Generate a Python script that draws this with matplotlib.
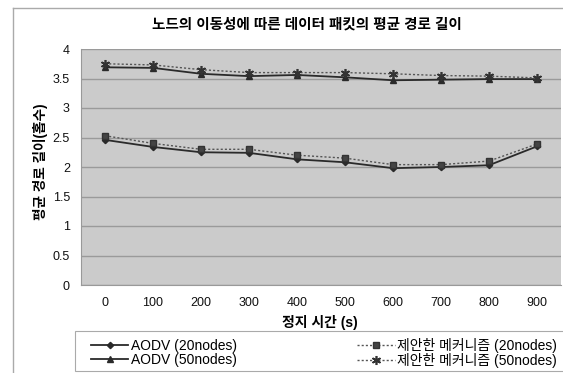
import matplotlib
matplotlib.use("Agg")
import matplotlib.pyplot as plt
from matplotlib.lines import Line2D
from matplotlib.patches import Rectangle

plt.rcParams['font.family'] = ['Liberation Sans', 'Noto Sans CJK KR', 'DejaVu Sans']

categories = ['0', '100', '200', '300', '400', '500', '600', '700', '800', '900']
aodv_20 = [2.46, 2.34, 2.25, 2.24, 2.13, 2.08, 1.98, 2.00, 2.03, 2.35]
prop_20 = [2.53, 2.40, 2.30, 2.30, 2.20, 2.15, 2.04, 2.04, 2.10, 2.39]
aodv_50 = [3.69, 3.68, 3.58, 3.54, 3.56, 3.52, 3.47, 3.48, 3.49, 3.49]
prop_50 = [3.75, 3.73, 3.65, 3.60, 3.60, 3.60, 3.58, 3.55, 3.54, 3.51]
yticks = [0, 0.5, 1, 1.5, 2, 2.5, 3, 3.5, 4]
ytick_labels = ['0', '0.5', '1', '1.5', '2', '2.5', '3', '3.5', '4']

title = '노드의 이동성에 따른 데이터 패킷의 평균 경로 길이'
xlabel = '정지 시간 (s)'
ylabel = '평균 경로 길이(홉수)'
labels = ['AODV (20nodes)', 'AODV (50nodes)', '제안한 메커니즘 (20nodes)', '제안한 메커니즘 (50nodes)']

W, H = 563, 373
fig = plt.figure(figsize=(W / 100, H / 100), dpi=100)
fig.patch.set_facecolor('white')

ax = fig.add_axes([81 / W, 1 - 285 / H, (561 - 81) / W, (285 - 49) / H])
ax.set_facecolor('#cbcbcb')

x = list(range(len(categories)))
lc = '#2a2a2a'
l1, = ax.plot(x, aodv_20, color=lc, lw=1.3, marker='D', ms=3.2, zorder=3)
l2, = ax.plot(x, aodv_50, color=lc, lw=1.3, marker='^', ms=4.5, zorder=3)
l3, = ax.plot(x, prop_20, color='#555555', lw=1.0, ls=(0, (1.5, 1.5)), marker='s', ms=4.5,
              markerfacecolor='#444444', markeredgecolor='#333333', zorder=3)
l4, = ax.plot(x, prop_50, color='#555555', lw=1.0, ls=(0, (1.5, 1.5)), marker=(6, 2, 0), ms=6.5,
              markeredgewidth=1.2, markeredgecolor='#333333', zorder=3)

ax.set_xlim(-0.5, len(categories) - 0.5)
ax.set_ylim(0, 4)
ax.set_yticks(yticks)
ax.set_yticklabels(ytick_labels)
ax.set_xticks(x)
ax.set_xticklabels(categories)
ax.yaxis.grid(True, color='#9a9a9a', lw=1.0)
ax.set_axisbelow(True)
ax.tick_params(axis='both', length=0, labelsize=9, colors='#111111')
ax.tick_params(axis='x', pad=9)
ax.tick_params(axis='y', pad=8)
for s in ['top', 'right']:
    ax.spines[s].set_visible(False)
ax.spines['left'].set_color('#999999')
ax.spines['bottom'].set_color('#999999')

fig.text(307 / W, 1 - 25 / H, title, ha='center', va='center', fontsize=10.5, fontweight='bold')
fig.text(320 / W, 1 - 322 / H, xlabel, ha='center', va='center', fontsize=10, fontweight='bold')
fig.text(40 / W, 1 - 162 / H, ylabel, ha='center', va='center', rotation=90, fontsize=9.8, fontweight='bold')

# legend frame
fig.add_artist(Rectangle((75 / W, 1 - 371 / H), (565 - 75) / W, 40 / H, transform=fig.transFigure,
                         facecolor='white', edgecolor='#aaaaaa', lw=0.8, zorder=1))
leg = fig.legend([l1, l2, l3, l4], labels, ncol=2, loc='lower left',
                 bbox_to_anchor=(88 / W, 1 - 371 / H, (560 - 88) / W, 40 / H),
                 mode='expand', frameon=False, fontsize=10,
                 handlelength=2.7, handletextpad=0.2, borderaxespad=0, labelspacing=0.05,
                 borderpad=0.2, columnspacing=1.0)
leg.set_zorder(2)

# chart area border (left and top)
fig.add_artist(Line2D([13 / W, 13 / W], [1 - 8 / H, 0], transform=fig.transFigure, color='#aaaaaa', lw=1))
fig.add_artist(Line2D([13 / W, 1], [1 - 8 / H, 1 - 8 / H], transform=fig.transFigure, color='#aaaaaa', lw=1))

fig.savefig('out.png', dpi=100)
